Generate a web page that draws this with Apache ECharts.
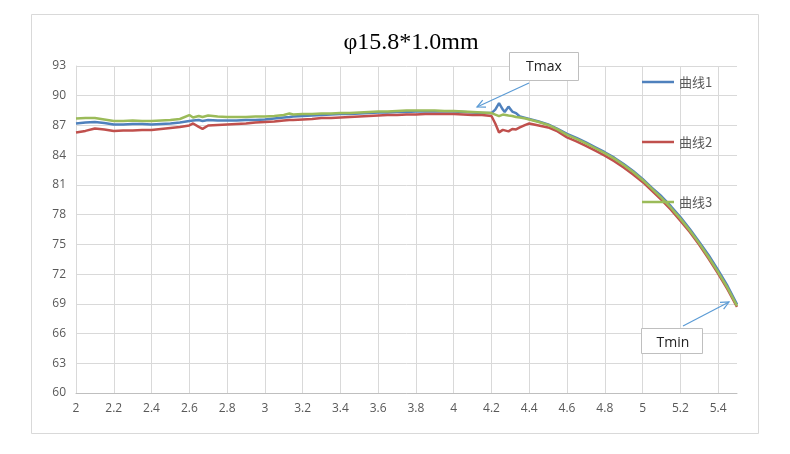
<!DOCTYPE html>
<html>
<head>
<meta charset="utf-8">
<script src="https://cdn.jsdelivr.net/npm/echarts@6/dist/echarts.min.js"></script>
<style>
html,body{margin:0;padding:0;background:#fff;}
#c{width:790px;height:454px;}
</style>
</head>
<body>
<div id="c"></div>
<script>
const titleText = 'φ15.8*1.0mm';
const seriesNames = ['曲线1', '曲线2', '曲线3'];
const xs = [2.00,2.05,2.10,2.15,2.20,2.25,2.30,2.35,2.40,2.45,2.50,2.55,2.60,2.62,2.65,2.67,2.70,2.75,2.80,2.85,2.90,2.95,3.00,3.05,3.10,3.13,3.15,3.20,3.25,3.30,3.35,3.40,3.45,3.50,3.55,3.60,3.65,3.70,3.75,3.80,3.85,3.90,3.95,4.00,4.05,4.10,4.15,4.20,4.22,4.24,4.26,4.27,4.29,4.31,4.33,4.35,4.38,4.40,4.45,4.50,4.55,4.60,4.65,4.70,4.75,4.80,4.85,4.90,4.95,5.00,5.05,5.10,5.15,5.20,5.25,5.30,5.35,5.40,5.45,5.50];
const curve1 = [87.20,87.30,87.35,87.25,87.10,87.10,87.15,87.15,87.10,87.15,87.20,87.30,87.45,87.50,87.55,87.45,87.55,87.50,87.50,87.50,87.55,87.55,87.60,87.70,87.80,87.85,87.90,87.95,88.00,88.05,88.10,88.15,88.15,88.20,88.25,88.30,88.30,88.35,88.35,88.40,88.40,88.40,88.40,88.40,88.35,88.30,88.25,88.25,88.60,89.25,88.60,88.35,88.90,88.40,88.25,87.90,87.75,87.65,87.40,87.10,86.65,86.15,85.75,85.30,84.80,84.30,83.75,83.10,82.40,81.60,80.70,79.85,78.85,77.75,76.55,75.25,73.90,72.40,70.80,68.95];
const curve2 = [86.30,86.45,86.70,86.60,86.45,86.50,86.50,86.55,86.55,86.65,86.75,86.85,87.00,87.20,86.85,86.65,87.00,87.05,87.10,87.15,87.20,87.30,87.35,87.40,87.50,87.55,87.55,87.60,87.65,87.75,87.75,87.80,87.85,87.90,87.95,88.00,88.05,88.05,88.10,88.10,88.15,88.15,88.15,88.15,88.10,88.05,88.05,87.95,87.20,86.30,86.55,86.45,86.40,86.65,86.60,86.80,87.05,87.20,87.00,86.80,86.40,85.80,85.40,84.95,84.45,83.95,83.40,82.75,82.05,81.30,80.40,79.50,78.50,77.40,76.25,74.95,73.55,72.05,70.45,68.70];
const curve3 = [87.70,87.75,87.75,87.60,87.45,87.45,87.50,87.45,87.45,87.50,87.55,87.65,88.05,87.80,87.95,87.85,88.00,87.90,87.85,87.85,87.85,87.90,87.90,87.95,88.05,88.20,88.10,88.15,88.15,88.20,88.20,88.25,88.25,88.30,88.35,88.40,88.40,88.45,88.50,88.50,88.50,88.50,88.45,88.45,88.40,88.35,88.30,88.25,88.10,87.95,88.10,88.15,88.00,87.95,87.85,87.80,87.70,87.60,87.35,87.05,86.60,86.05,85.65,85.20,84.70,84.20,83.65,83.00,82.30,81.50,80.60,79.70,78.70,77.60,76.40,75.10,73.70,72.20,70.60,68.80];
const yMin = 60, yMax = 93, yStep = 3;
const xMin = 2, xMax = 5.5, xStep = 0.2;
const colors = ['#4F81BD', '#C0504D', '#9BBB59'];
const callouts = ['Tmax', 'Tmin'];

const chart = echarts.init(document.getElementById('c'), null, {renderer: 'canvas'});

function pairs(ys) { return xs.map((x, i) => [x, ys[i]]); }

function arrowHead(x1, y1, x2, y2, len) {
  const a = Math.atan2(y2 - y1, x2 - x1);
  const s = 0.45;
  return [
    [x2 - len * Math.cos(a - s), y2 - len * Math.sin(a - s)],
    [x2, y2],
    [x2 - len * Math.cos(a + s), y2 - len * Math.sin(a + s)]
  ];
}

const arrowStyle = {stroke: '#5B9BD5', lineWidth: 1.2, fill: null};
const a1 = [529, 83, 477, 107];
const a2 = [683, 326, 729, 302];

const datas = [curve1, curve2, curve3];
const lineIcon = 'path://M0,0 L0.01,0 L0,0.01 Z M0,5.8 L32,5.8 L32,8.2 L0,8.2 Z M0,14 L0.01,14 L0,13.99 Z';

chart.setOption({
  animation: false,
  backgroundColor: '#fff',
  title: {
    text: titleText,
    left: 406, top: 26, textAlign: 'center',
    textStyle: {fontFamily: 'Liberation Serif', fontSize: 24, fontWeight: 'normal', color: '#000'}
  },
  grid: {left: 76, right: 53, top: 66, bottom: 61},
  legend: {
    orient: 'vertical', left: 637, top: 70,
    itemWidth: 32, itemHeight: 14, itemGap: 46,
    data: seriesNames.map(n => ({name: n, icon: lineIcon})),
    textStyle: {fontFamily: 'Noto Sans CJK SC', fontSize: 13, color: '#595959'}
  },
  xAxis: {
    type: 'value', min: xMin, max: xMax, interval: xStep,
    axisLine: {lineStyle: {color: '#BFBFBF'}},
    axisTick: {show: false},
    axisLabel: {color: '#595959', fontFamily: 'Open Sans', fontSize: 12, margin: 10, showMaxLabel: false,
      formatter: v => String(Math.round(v * 10) / 10)},
    splitLine: {show: true, showMaxLine: false, lineStyle: {color: '#D9D9D9'}}
  },
  yAxis: {
    type: 'value', min: yMin, max: yMax, interval: yStep,
    axisLine: {show: true, lineStyle: {color: '#D9D9D9'}},
    axisTick: {show: false},
    axisLabel: {color: '#595959', fontFamily: 'Open Sans', fontSize: 12, margin: 10},
    splitLine: {show: true, lineStyle: {color: '#D9D9D9'}}
  },
  series: datas.map((d, i) => ({
    name: seriesNames[i], type: 'line', data: pairs(d),
    symbol: 'none', smooth: false,
    lineStyle: {color: colors[i], width: 2.5},
    itemStyle: {color: colors[i]},
    z: 2 + i
  })),
  graphic: [
    {type: 'rect', shape: {x: 31.5, y: 14.5, width: 727, height: 419}, style: {fill: null, stroke: '#D9D9D9', lineWidth: 1}, z: 0, silent: true},
    {type: 'rect', shape: {x: 509.5, y: 52.5, width: 69, height: 28}, style: {fill: '#fff', stroke: '#BFBFBF', lineWidth: 1}, z: 100},
    {type: 'text', x: 544, y: 67, style: {text: callouts[0], fontFamily: 'Open Sans', fontSize: 14, fill: '#222', align: 'center', verticalAlign: 'middle'}, z: 101},
    {type: 'polyline', shape: {points: [[a1[0], a1[1]], [a1[2], a1[3]]]}, style: arrowStyle, z: 100},
    {type: 'polyline', shape: {points: arrowHead(a1[0], a1[1], a1[2], a1[3], 9)}, style: arrowStyle, z: 100},
    {type: 'rect', shape: {x: 641.5, y: 328.5, width: 61, height: 25}, style: {fill: '#fff', stroke: '#BFBFBF', lineWidth: 1}, z: 100},
    {type: 'text', x: 673, y: 343, style: {text: callouts[1], fontFamily: 'Open Sans', fontSize: 14, fill: '#222', align: 'center', verticalAlign: 'middle'}, z: 101},
    {type: 'polyline', shape: {points: [[a2[0], a2[1]], [a2[2], a2[3]]]}, style: arrowStyle, z: 100},
    {type: 'polyline', shape: {points: arrowHead(a2[0], a2[1], a2[2], a2[3], 9)}, style: arrowStyle, z: 100}
  ]
});
</script>
</body>
</html>
